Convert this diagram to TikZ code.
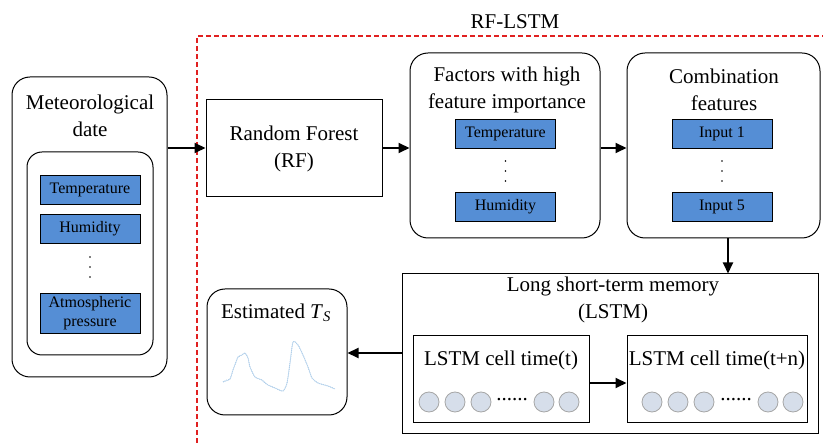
\documentclass[tikz,border=0pt]{standalone}
\usepackage{fontspec}
\setmainfont{Liberation Serif}
\usetikzlibrary{arrows.meta}
\definecolor{blueF}{HTML}{558ED5}
\definecolor{cellF}{HTML}{D6DEEA}
\definecolor{cellD}{HTML}{A6A6A6}
\definecolor{redD}{HTML}{E02020}
\definecolor{curveC}{HTML}{9DC3E6}
\begin{document}
\begin{tikzpicture}[x=1pt,y=-1pt,
  bigtext/.style={font=\fontsize{21}{27}\selectfont, align=center, inner sep=0pt},
  rbox/.style={draw, rounded corners=18pt, line width=1pt, inner sep=0pt},
  sbox/.style={draw, line width=1pt, inner sep=0pt},
  bluebox/.style={draw, fill=blueF, line width=0.9pt, minimum width=100pt, minimum height=29pt,
    font=\fontsize{16}{19}\selectfont, align=center, inner sep=0pt},
  vdotsnode/.style={minimum width=4pt, minimum height=24pt, inner sep=0pt,
    path picture={\foreach \d in {-10,0,10}{\fill ([yshift=\d pt]path picture bounding box.center) circle (0.9pt);}}},
  arr/.style={-{Triangle[length=11pt,width=10pt]}, line width=2pt},
  cellc/.style={circle, draw=cellD, fill=cellF, line width=0.8pt, minimum size=20pt, inner sep=0pt},
  celldots/.style={font=\fontsize{21}{21}\selectfont, inner sep=0pt}
]
\useasboundingbox (0,0) rectangle (823,443);

% RF-LSTM dashed frame
\draw[redD, dashed, dash pattern=on 5pt off 3pt, line width=1.3pt] (197,443) -- (197,36) -- (823,36);
\node[bigtext] (rflstm) at (515,22) {RF-LSTM};

% Meteorological data
\node[rbox, minimum width=155pt, minimum height=300pt] (met) at (89.5,227) {};
\node[bigtext] (mettitle) at (90,116) {Meteorological\\date};
\node[draw, rounded corners=15pt, line width=1pt, minimum width=126pt, minimum height=203pt] (metin) at (90,253.5) {};
\node[bluebox] (mtemp) at (90,189.5) {Temperature};
\node[bluebox] (mhum) at (90,228.5) {Humidity};
\node[vdotsnode] (mdots) at (90,267) {};
\node[bluebox, minimum height=40pt] (matm) at (90,313) {Atmospheric\\pressure};

% Random forest
\node[sbox, minimum width=176pt, minimum height=97pt, bigtext] (rf) at (294,148.5) {Random Forest\\(RF)};

% Factors
\node[rbox, minimum width=190pt, minimum height=185pt] (fac) at (505,145.5) {};
\node[bigtext] (factitle) at (507,90) {Factors with high\\feature importance};
\node[bluebox] (ftemp) at (505.5,133.5) {Temperature};
\node[vdotsnode] (fdots) at (505.5,171) {};
\node[bluebox] (fhum) at (505.5,207) {Humidity};

% Combination
\node[rbox, minimum width=193pt, minimum height=185pt] (comb) at (723.5,145.5) {};
\node[bigtext] (combtitle) at (724,90) {Combination\\features};
\node[bluebox] (in1) at (722,133.5) {Input 1};
\node[vdotsnode] (cdots) at (722,171) {};
\node[bluebox] (in5) at (722,207) {Input 5};

% LSTM
\node[sbox, minimum width=416pt, minimum height=160pt] (lstm) at (610,354) {};
\node[bigtext] (lstmtitle) at (613,300) {Long short-term memory\\(LSTM)};
\node[sbox, minimum width=176pt, minimum height=87pt] (cellt) at (501,379.5) {};
\node[bigtext] (celltt) at (501,360) {LSTM cell time(t)};
\node[sbox, minimum width=180pt, minimum height=87pt] (celln) at (717,379.5) {};
\node[bigtext] (cellnt) at (717,360) {LSTM cell time(t+n)};
\foreach \x [count=\i] in {429,455,481,544,569}{\node[cellc] (ct\i) at (\x,402) {};}
\node[celldots] (ctd) at (512,400) {......};
\foreach \x [count=\i] in {652,678,704,768,793}{\node[cellc] (cn\i) at (\x,402) {};}
\node[celldots] (cnd) at (736,400) {......};

% Estimated
\node[rbox, minimum width=140pt, minimum height=126pt] (est) at (277,352) {};
\node[bigtext] (esttitle) at (276,313) {Estimated \textit{T}\textsubscript{\textit{S}}};
\draw[curveC, line width=0.9pt, densely dotted, line join=round]
  plot[smooth, tension=0.4] coordinates {(223,382) (227,380) (230,379) (233,370) (236,362) (238,357) (242,355) (245,353) (248,358) (250,367) (255,377) (262,380) (265,383) (268,385) (275,388) (283,391) (287,383) (290,363) (293,342) (298,345) (303,355) (308,367) (312,378) (318,383) (328,386) (335,389)};
\draw[curveC!70!white, line width=0.5pt]
  plot[smooth, tension=0.4] coordinates {(223,382) (230,379) (233,370) (238,357) (242,355) (245,353) (248,358) (250,367) (255,377) (262,380) (268,385) (275,388) (283,391) (287,383) (290,363) (293,342) (298,345) (303,355) (308,367) (312,378) (318,383) (328,386) (335,389)};

% connectors
\draw[arr] (met.east |- 0,148) -- (rf.west |- 0,148);
\draw[arr] (rf.east |- 0,148) -- (fac.west |- 0,148);
\draw[arr] (fac.east |- 0,148) -- (comb.west |- 0,148);
\draw[arr] (comb.south -| 728,0) -- (lstm.north -| 728,0);
\draw[arr] (cellt.east |- 0,383) -- (celln.west |- 0,383);
\draw[arr] (lstm.west |- 0,353) -- (est.east |- 0,353);
\end{tikzpicture}
\end{document}
